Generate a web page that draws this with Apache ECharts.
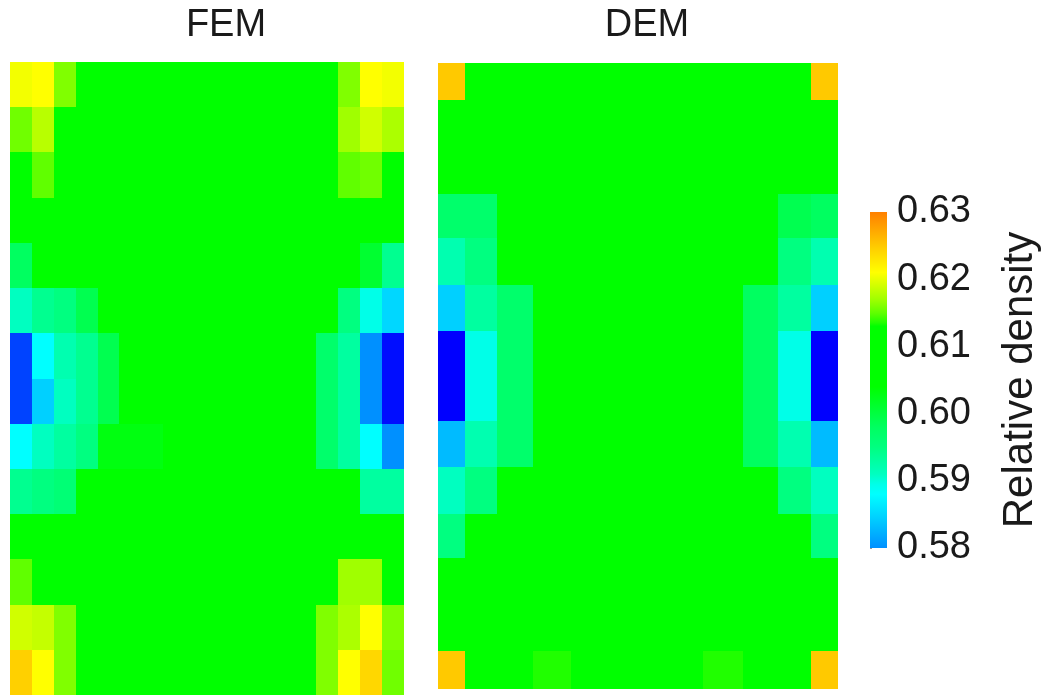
<!DOCTYPE html>
<html>
<head>
<meta charset="utf-8">
<script src="https://cdn.jsdelivr.net/npm/echarts@6/dist/echarts.min.js"></script>
<style>
html,body{margin:0;padding:0;background:#fff;}
#chart{width:1042px;height:695px;}
</style>
</head>
<body>
<div id="chart"></div>
<script>
// ---------- data ----------
const panelTitles = ['FEM', 'DEM'];
const colorbarName = 'Relative density';
const colorbarTicks = [0.58, 0.59, 0.60, 0.61, 0.62, 0.63];

// FEM mesh (uniform 18 x 14 cells), row 0 = top
const femColEdges = [0,1,2,3,4,5,6,7,8,9,10,11,12,13,14,15,16,17,18];
const femRowEdges = [0,1,2,3,4,5,6,7,8,9,10,11,12,13,14];
const femValues = [
  [0.6205,0.621,0.616,0.608,0.608,0.608,0.608,0.608,0.608,0.608,0.608,0.608,0.608,0.608,0.608,0.616,0.621,0.6205],
  [0.6155,0.618,0.608,0.608,0.608,0.608,0.608,0.608,0.608,0.608,0.608,0.608,0.608,0.608,0.608,0.617,0.619,0.6175],
  [0.608,0.615,0.608,0.608,0.608,0.608,0.608,0.608,0.608,0.608,0.608,0.608,0.608,0.608,0.608,0.615,0.6155,0.608],
  [0.608,0.608,0.608,0.608,0.608,0.608,0.608,0.608,0.608,0.608,0.608,0.608,0.608,0.608,0.608,0.608,0.608,0.608],
  [0.598,0.608,0.608,0.608,0.608,0.608,0.608,0.608,0.608,0.608,0.608,0.608,0.608,0.608,0.608,0.608,0.601,0.594],
  [0.591,0.594,0.595,0.599,0.608,0.608,0.608,0.608,0.608,0.608,0.608,0.608,0.608,0.608,0.608,0.595,0.5895,0.585],
  [0.575,0.588,0.592,0.594,0.599,0.608,0.608,0.608,0.608,0.608,0.608,0.608,0.608,0.608,0.597,0.593,0.580,0.571],
  [0.575,0.5845,0.591,0.594,0.599,0.608,0.608,0.608,0.608,0.608,0.608,0.608,0.608,0.608,0.597,0.593,0.580,0.571],
  [0.588,0.591,0.593,0.595,0.603,0.603,0.603,0.608,0.608,0.608,0.608,0.608,0.608,0.608,0.597,0.593,0.588,0.580],
  [0.594,0.595,0.596,0.608,0.608,0.608,0.608,0.608,0.608,0.608,0.608,0.608,0.608,0.608,0.608,0.608,0.593,0.593],
  [0.608,0.608,0.608,0.608,0.608,0.608,0.608,0.608,0.608,0.608,0.608,0.608,0.608,0.608,0.608,0.608,0.608,0.608],
  [0.615,0.608,0.608,0.608,0.608,0.608,0.608,0.608,0.608,0.608,0.608,0.608,0.608,0.608,0.608,0.617,0.617,0.608],
  [0.619,0.6185,0.616,0.608,0.608,0.608,0.608,0.608,0.608,0.608,0.608,0.608,0.608,0.608,0.616,0.6175,0.621,0.616],
  [0.6245,0.621,0.616,0.608,0.608,0.608,0.608,0.608,0.608,0.608,0.608,0.608,0.608,0.608,0.616,0.621,0.624,0.6155]
];

// DEM mesh (graded 11 x 14 cells), row 0 = top
const demColEdges = [0, 2.67, 5.94, 9.50, 13.34, 17.72, 22.10, 26.48, 30.48, 33.98, 37.32, 39.98];
const demRowEdges = [0, 3.74, 8.37, 13.07, 17.50, 22.17, 26.77, 31.27, 35.74, 40.34, 45.07, 49.50, 54.17, 58.77, 62.57];
const demValues = [
  [0.625,0.608,0.608,0.608,0.608,0.608,0.608,0.608,0.608,0.608,0.625],
  [0.608,0.608,0.608,0.608,0.608,0.608,0.608,0.608,0.608,0.608,0.608],
  [0.608,0.608,0.608,0.608,0.608,0.608,0.608,0.608,0.608,0.608,0.608],
  [0.597,0.597,0.608,0.608,0.608,0.608,0.608,0.608,0.608,0.599,0.598],
  [0.592,0.595,0.608,0.608,0.608,0.608,0.608,0.608,0.608,0.595,0.592],
  [0.5845,0.593,0.597,0.608,0.608,0.608,0.608,0.608,0.598,0.593,0.5845],
  [0.570,0.5895,0.597,0.608,0.608,0.608,0.608,0.608,0.598,0.5895,0.570],
  [0.570,0.5895,0.597,0.608,0.608,0.608,0.608,0.608,0.598,0.5895,0.570],
  [0.583,0.592,0.597,0.608,0.608,0.608,0.608,0.608,0.598,0.592,0.583],
  [0.591,0.595,0.608,0.608,0.608,0.608,0.608,0.608,0.608,0.595,0.591],
  [0.595,0.608,0.608,0.608,0.608,0.608,0.608,0.608,0.608,0.608,0.595],
  [0.608,0.608,0.608,0.608,0.608,0.608,0.608,0.608,0.608,0.608,0.608],
  [0.608,0.608,0.608,0.608,0.608,0.608,0.608,0.608,0.608,0.608,0.608],
  [0.625,0.608,0.608,0.6135,0.608,0.608,0.608,0.6135,0.608,0.608,0.625]
];

// colour scale (value -> colour)
const colorStops = [
  [0.570,'#0000ff'],[0.576,'#0050ff'],[0.580,'#0090ff'],[0.5845,'#00d0ff'],
  [0.588,'#00ffff'],[0.5895,'#00ffe8'],[0.591,'#00ffc0'],[0.593,'#00ffa0'],
  [0.595,'#00ff80'],[0.598,'#00ff60'],[0.601,'#00ff30'],[0.604,'#00ff00'],
  [0.613,'#00ff00'],[0.6135,'#20ff00'],[0.615,'#60ff00'],[0.617,'#a0ff00'],
  [0.619,'#d0ff00'],[0.621,'#ffff00'],[0.6245,'#ffd000'],[0.630,'#ff8000']
];
const scaleMin = 0.570, scaleMax = 0.630;

// ---------- helpers ----------
function hexToRgb(h){return [parseInt(h.substr(1,2),16),parseInt(h.substr(3,2),16),parseInt(h.substr(5,2),16)];}
function rgbToHex(c){return '#'+c.map(v=>Math.round(v).toString(16).padStart(2,'0')).join('');}
function colorAt(v){
  if(v<=colorStops[0][0]) return colorStops[0][1];
  for(let i=1;i<colorStops.length;i++){
    if(v<=colorStops[i][0]+1e-9){
      const [v0,c0]=colorStops[i-1],[v1,c1]=colorStops[i];
      const t=(v-v0)/(v1-v0);const a=hexToRgb(c0),b=hexToRgb(c1);
      return rgbToHex(a.map((x,k)=>x+(b[k]-x)*t));
    }
  }
  return colorStops[colorStops.length-1][1];
}
const nSamples = 121;
const sampledColors = [];
for(let i=0;i<nSamples;i++){sampledColors.push(colorAt(scaleMin+(scaleMax-scaleMin)*i/(nSamples-1)));}

function buildCells(colEdges,rowEdges,values){
  const out=[];
  for(let r=0;r<values.length;r++){
    for(let c=0;c<values[r].length;c++){
      out.push([colEdges[c],colEdges[c+1],rowEdges[r],rowEdges[r+1],values[r][c]]);
    }
  }
  return out;
}
const femData = buildCells(femColEdges,femRowEdges,femValues);
const demData = buildCells(demColEdges,demRowEdges,demValues);

function renderCell(params, api){
  const p0 = api.coord([api.value(0), api.value(2)]);
  const p1 = api.coord([api.value(1), api.value(3)]);
  const xa = Math.round(Math.min(p0[0],p1[0])), xb = Math.round(Math.max(p0[0],p1[0]));
  const ya = Math.round(Math.min(p0[1],p1[1])), yb = Math.round(Math.max(p0[1],p1[1]));
  return {
    type:'rect',
    shape:{x:xa, y:ya, width:xb-xa, height:yb-ya},
    style:{fill:api.visual('color')}
  };
}

const cbLo = colorbarTicks[0], cbHi = colorbarTicks[colorbarTicks.length-1];
const cbGradStops = [];
cbGradStops.push({offset:0,color:colorAt(cbLo)});
colorStops.forEach(s=>{ if(s[0]>cbLo && s[0]<cbHi) cbGradStops.push({offset:(s[0]-cbLo)/(cbHi-cbLo),color:s[1]}); });
cbGradStops.push({offset:1,color:colorAt(cbHi)});

function renderColorbar(params, api){
  const p0 = api.coord([api.value(0), api.value(2)]);
  const p1 = api.coord([api.value(1), api.value(3)]);
  return {
    type:'rect',
    shape:{x:Math.min(p0[0],p1[0]),y:Math.min(p0[1],p1[1]),width:Math.abs(p1[0]-p0[0]),height:Math.abs(p1[1]-p0[1])},
    style:{fill:{type:'linear',x:0,y:1,x2:0,y2:0,colorStops:cbGradStops}}
  };
}

const FONT = '"Liberation Sans", Arial, Helvetica, sans-serif';

const chart = echarts.init(document.getElementById('chart'), null, {renderer:'canvas'});
chart.setOption({
  backgroundColor:'#ffffff',
  animation:false,
  textStyle:{fontFamily:FONT},
  graphic:[
    {type:'text', x:226, y:26, style:{text:panelTitles[0], fontSize:38, fontFamily:FONT, fill:'#1a1a1a', align:'center', verticalAlign:'middle'}},
    {type:'text', x:647, y:26, style:{text:panelTitles[1], fontSize:38, fontFamily:FONT, fill:'#1a1a1a', align:'center', verticalAlign:'middle'}}
  ],
  grid:[
    {left:10, top:62, width:394, height:633},
    {left:438, top:63, width:400, height:626},
    {left:870, top:212, width:19, height:336}
  ],
  xAxis:[
    {gridIndex:0, type:'value', min:femColEdges[0], max:femColEdges[femColEdges.length-1], show:false},
    {gridIndex:1, type:'value', min:demColEdges[0], max:demColEdges[demColEdges.length-1], show:false},
    {gridIndex:2, type:'value', min:0, max:1, show:false}
  ],
  yAxis:[
    {gridIndex:0, type:'value', inverse:true, min:femRowEdges[0], max:femRowEdges[femRowEdges.length-1], show:false},
    {gridIndex:1, type:'value', inverse:true, min:demRowEdges[0], max:demRowEdges[demRowEdges.length-1], show:false},
    {gridIndex:2, type:'value', position:'right', min:cbLo, max:cbHi, interval:0.01,
      axisLine:{show:false}, splitLine:{show:false},
      axisTick:{show:true, length:2, lineStyle:{color:'#999'}},
      axisLabel:{fontSize:38, color:'#1a1a1a', fontFamily:FONT, margin:10, formatter:v=>v.toFixed(2)},
      name:colorbarName, nameLocation:'middle', nameRotate:90, nameGap:112,
      nameTextStyle:{fontSize:42, color:'#1a1a1a', fontFamily:FONT}
    }
  ],
  visualMap:[{
    type:'continuous', show:false, min:scaleMin, max:scaleMax, dimension:4, seriesIndex:[0,1],
    inRange:{color:sampledColors}
  }],
  series:[
    {type:'custom', name:panelTitles[0], xAxisIndex:0, yAxisIndex:0, renderItem:renderCell, encode:{x:[0,1], y:[2,3]}, data:femData},
    {type:'custom', name:panelTitles[1], xAxisIndex:1, yAxisIndex:1, renderItem:renderCell, encode:{x:[0,1], y:[2,3]}, data:demData},
    {type:'custom', name:'colorbar', xAxisIndex:2, yAxisIndex:2, renderItem:renderColorbar, encode:{x:[0,1], y:[2,3]}, data:[[0,1,cbLo,cbHi]], silent:true}
  ]
});
</script>
</body>
</html>
